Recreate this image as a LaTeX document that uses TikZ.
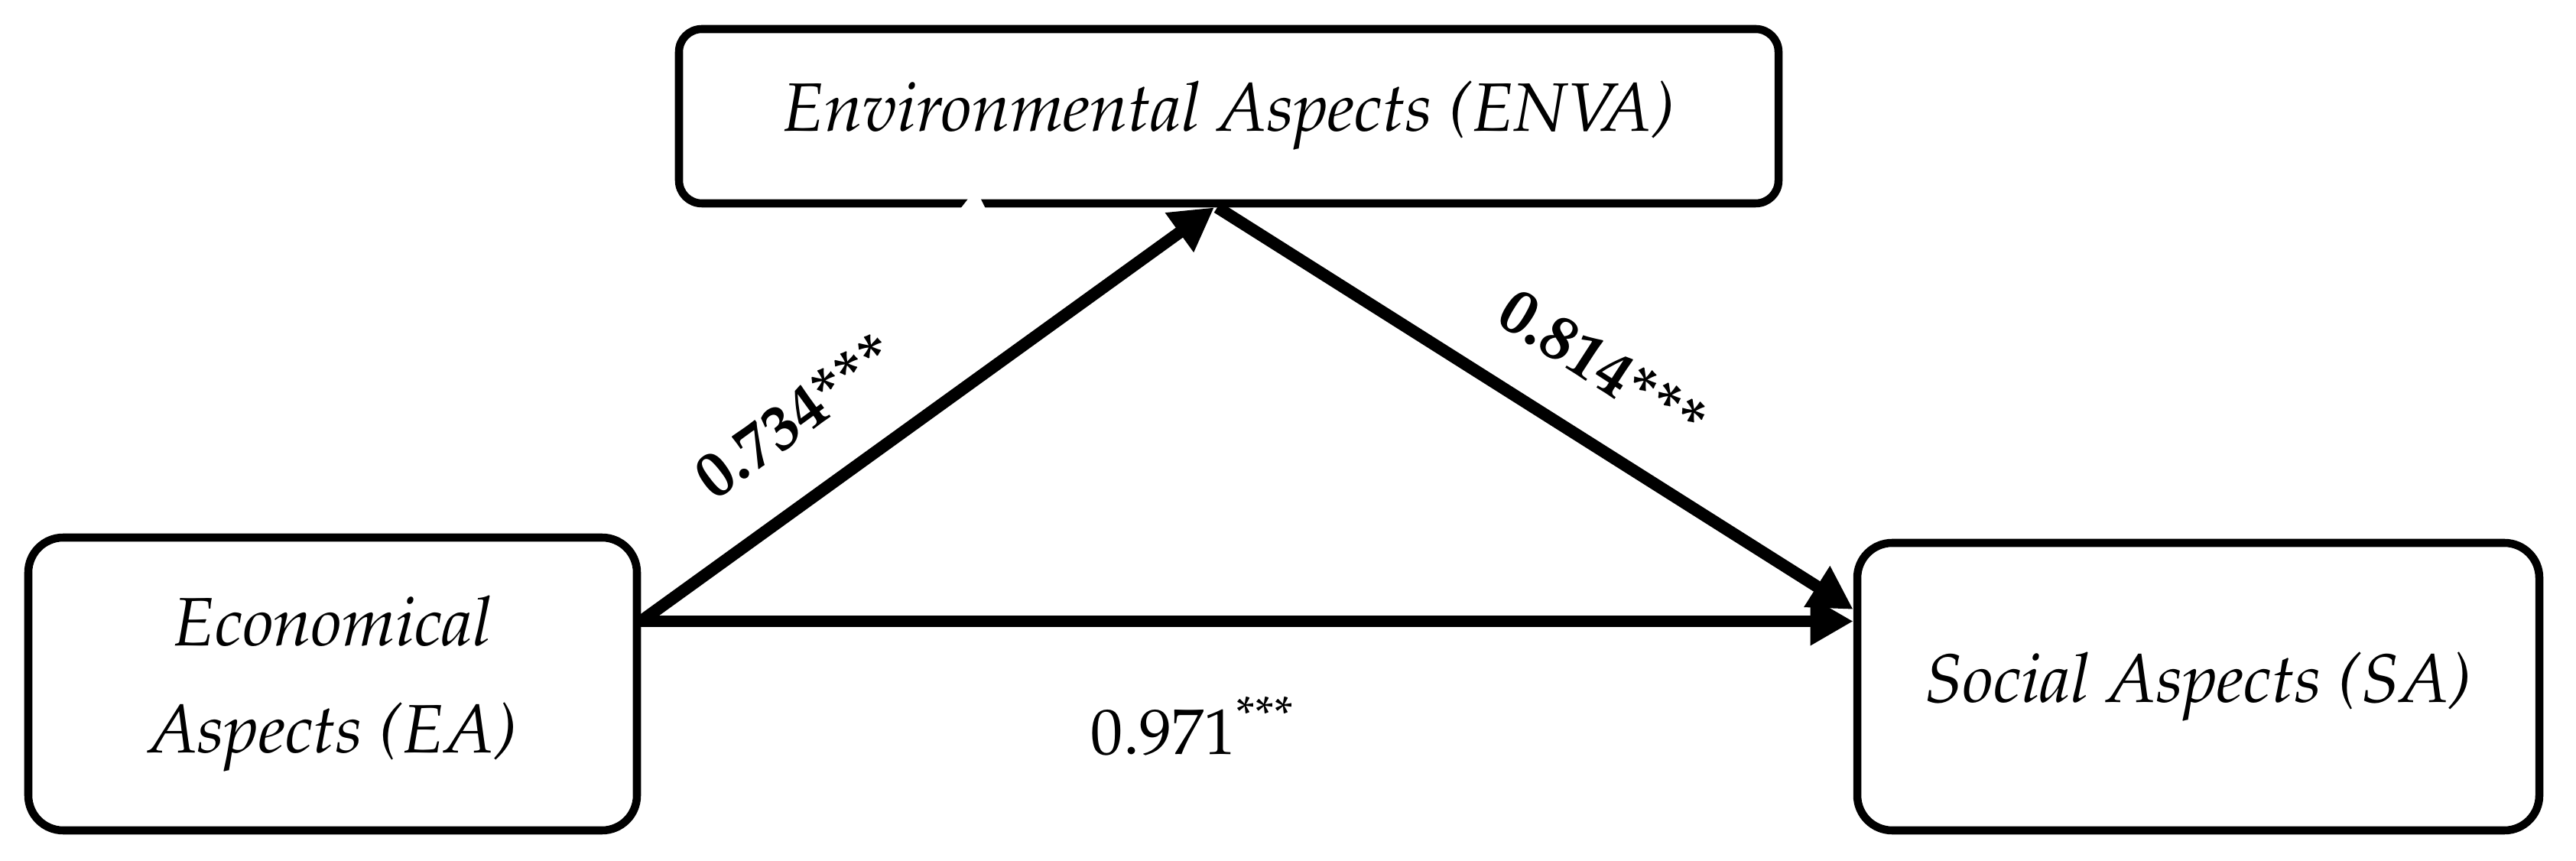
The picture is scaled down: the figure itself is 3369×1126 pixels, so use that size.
\documentclass[tikz,border=0pt]{standalone}
\usepackage[T1]{fontenc}
\usepackage{mathpazo}
\usetikzlibrary{arrows.meta}
\newcommand{\boxfont}{\fontsize{25.5}{40}\selectfont\itshape}
\newcommand{\coeffont}{\fontsize{24}{28}\selectfont}
\tikzset{
  box/.style={draw, line width=3pt, rounded corners=13pt, font=\boxfont, align=center, inner sep=0pt},
  link/.style={line width=4.5pt, -{Triangle[length=16pt,width=17pt]}},
  coef/.style={font=\coeffont, inner sep=0pt}
}
\begin{document}
\begin{tikzpicture}[x=0.1mm,y=-0.1mm]
\useasboundingbox (0,0) rectangle (3369,1126);
\node[box, minimum width=143.8mm, minimum height=22.8mm, rounded corners=8.5pt] (ENVA) at (1607,152) {Environmental Aspects (ENVA)};
\node[box, minimum width=79.6mm, minimum height=38.3mm] (EA) at (435,894.5) {Economical\\Aspects (EA)};
\node[box, minimum width=89.2mm, minimum height=37.6mm] (SA) at (2875,898) {\raisebox{-1.4mm}{Social Aspects (SA)}};
\fill[white] (1267,259) -- (1282,259) -- (1289,273) -- (1256,273) -- cycle;
\coordinate (s) at ([yshift=8.2mm]EA.east);
\draw[link] (s) -- ([xshift=-1.9mm]ENVA.south);
\draw[link] ([xshift=-1.5mm]ENVA.south) -- ([yshift=10.1mm]SA.west);
\draw[link] (s) -- (s -| SA.west);
\node[coef, rotate=36] (L1) at (1040,543) {\textbf{0.734***}};
\node[coef, rotate=-33] (L2) at (2097,478) {\textbf{0.814***}};
\node[coef] (L3) at (1560,950) {0.971\textsuperscript{***}};
\end{tikzpicture}
\end{document}
